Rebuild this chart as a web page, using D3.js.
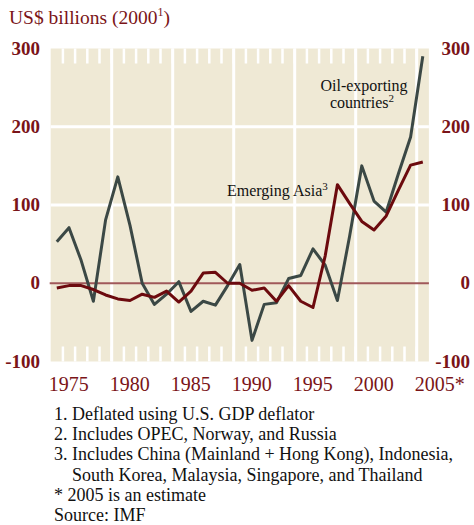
<!DOCTYPE html>
<html>
<head>
<meta charset="utf-8">
<script src="https://cdn.jsdelivr.net/npm/d3@7"></script>
<style>
  body { margin: 0; background: #fff; }
  text { font-family: "Liberation Serif", "Times New Roman", serif; }
</style>
</head>
<body>
<svg id="chart" width="474" height="525"></svg>
<script>
// years on the x axis
var years = [1975, 1976, 1977, 1978, 1979, 1980, 1981, 1982, 1983, 1984,
  1985, 1986, 1987, 1988, 1989, 1990, 1991, 1992, 1993, 1994,
  1995, 1996, 1997, 1998, 1999, 2000, 2001, 2002, 2003, 2004, 2005];
// oil-exporting countries, US$ billions (2000)
var oilValues = [53, 71, 29, -23, 81, 136, 74, 0, -27, -14,
  2, -36, -23, -28, -3, 24, -73, -27, -25, 6,
  10, 44, 23, -22, 60, 150, 105, 91, 140, 187, 290];
// emerging asia
var asiaValues = [-6, -3, -3, -8, -15, -20, -22, -14, -18, -10,
  -24, -10, 13, 14, 0, 0, -9, -6, -23, -3,
  -23, -31, 35, 126, 102, 79, 68, 86, 119, 151, 155];
var yTicks = [-100, 0, 100, 200, 300];
var labelYears = [1975, 1980, 1985, 1990, 1995, 2000, 2005];
var xLabels = ["1975", "1980", "1985", "1990", "1995", "2000", "2005*"];
var footnotes = [
  "1. Deflated using U.S. GDP deflator",
  "2. Includes OPEC, Norway, and Russia",
  "3. Includes China (Mainland + Hong Kong), Indonesia,",
  "    South Korea, Malaysia, Singapore, and Thailand",
  "* 2005 is an estimate",
  "Source: IMF"
];

var red = "#7a1418", grey = "#3b4845", beige = "#efe9d5";
var svg = d3.select("#chart");

var pLeft = 50.7, pRight = 428.9, pTop = 48.5, pBottom = 361.5;
var x = d3.scaleBand().domain(years).range([pLeft, pRight]).padding(0);
var y = d3.scaleLinear().domain([-100, 300]).range([pBottom, pTop]);
var cx = function (d) { return x(d) + x.bandwidth() / 2 };

svg.append("rect")
  .attr("x", pLeft).attr("y", pTop)
  .attr("width", pRight - pLeft).attr("height", pBottom - pTop)
  .attr("fill", beige);

// white grid
svg.selectAll(".hgrid")
  .data([100, 200])
  .enter().append("line")
  .attr("x1", pLeft).attr("x2", pRight)
  .attr("y1", function (d) { return y(d) }).attr("y2", function (d) { return y(d) })
  .attr("stroke", "#fff").attr("stroke-width", 3);

var gridYears = labelYears.filter(function (d) { return d > 1975 });
svg.selectAll(".vgrid")
  .data(gridYears)
  .enter().append("line")
  .attr("x1", function (d) { return x(d) }).attr("x2", function (d) { return x(d) })
  .attr("y1", pTop).attr("y2", pBottom)
  .attr("stroke", "#fff").attr("stroke-width", 3);

// small ticks at year boundaries
var tickYears = years.filter(function (d) { return d > 1975 });
[pTop, pBottom - 15].forEach(function (y0) {
  svg.append("g").selectAll("line")
    .data(tickYears)
    .enter().append("line")
    .attr("x1", function (d) { return x(d) }).attr("x2", function (d) { return x(d) })
    .attr("y1", y0).attr("y2", y0 + 15)
    .attr("stroke", "#fff").attr("stroke-width", 2.5);
});

// zero line
svg.append("line")
  .attr("x1", pLeft - 1).attr("x2", pRight)
  .attr("y1", y(0)).attr("y2", y(0))
  .attr("stroke", "#a0585a").attr("stroke-width", 2);

var line = d3.line()
  .x(function (d) { return cx(d.year) })
  .y(function (d) { return y(d.value) });

var oilData = years.map(function (d, i) { return { year: d, value: oilValues[i] } });
var asiaData = years.map(function (d, i) { return { year: d, value: asiaValues[i] } });

svg.append("path").datum(oilData)
  .attr("d", line).attr("fill", "none")
  .attr("stroke", grey).attr("stroke-width", 3).attr("stroke-linejoin", "round");
svg.append("path").datum(asiaData)
  .attr("d", line).attr("fill", "none")
  .attr("stroke", "#6c0a0e").attr("stroke-width", 3).attr("stroke-linejoin", "round");

// y labels on both sides
svg.selectAll(".ylabL")
  .data(yTicks)
  .enter().append("text")
  .attr("x", 40).attr("y", function (d) { return y(d) + 6 })
  .attr("text-anchor", "end")
  .attr("font-size", 19).attr("font-weight", "bold").attr("fill", red)
  .text(function (d) { return d });
svg.selectAll(".ylabR")
  .data(yTicks)
  .enter().append("text")
  .attr("x", 470).attr("y", function (d) { return y(d) + 6 })
  .attr("text-anchor", "end")
  .attr("font-size", 19).attr("font-weight", "bold").attr("fill", red)
  .text(function (d) { return d });

// x labels
svg.selectAll(".xlab")
  .data(xLabels)
  .enter().append("text")
  .attr("x", function (d, i) { return x(labelYears[i]) - 2 })
  .attr("y", 391)
  .attr("font-size", 20).attr("fill", red)
  .text(function (d) { return d });

// title
var title = svg.append("text")
  .attr("x", 9).attr("y", 24)
  .attr("font-size", 19.5).attr("fill", red);
title.append("tspan").text("US$ billions (2000");
title.append("tspan").attr("font-size", 12).attr("dy", -8).text("1");
title.append("tspan").attr("dy", 8).text(")");

// annotations
var oilLab = svg.append("text")
  .attr("text-anchor", "middle").attr("font-size", 16).attr("fill", "#111");
oilLab.append("tspan").attr("x", 364).attr("y", 91).text("Oil-exporting");
var c2 = oilLab.append("tspan").attr("x", 362).attr("y", 108).text("countries");
c2.append("tspan").attr("font-size", 11).attr("dy", -6).text("2");

var asiaLab = svg.append("text")
  .attr("x", 227).attr("y", 196).attr("font-size", 16).attr("fill", "#111");
asiaLab.append("tspan").text("Emerging Asia");
asiaLab.append("tspan").attr("font-size", 11).attr("dy", -6).text("3");

// footnotes
svg.selectAll(".note")
  .data(footnotes)
  .enter().append("text")
  .attr("x", 54).attr("y", function (d, i) { return 420 + i * 20.2 })
  .attr("font-size", 18).attr("fill", "#111")
  .attr("xml:space", "preserve")
  .style("white-space", "pre")
  .text(function (d) { return d });
</script>
</body>
</html>
